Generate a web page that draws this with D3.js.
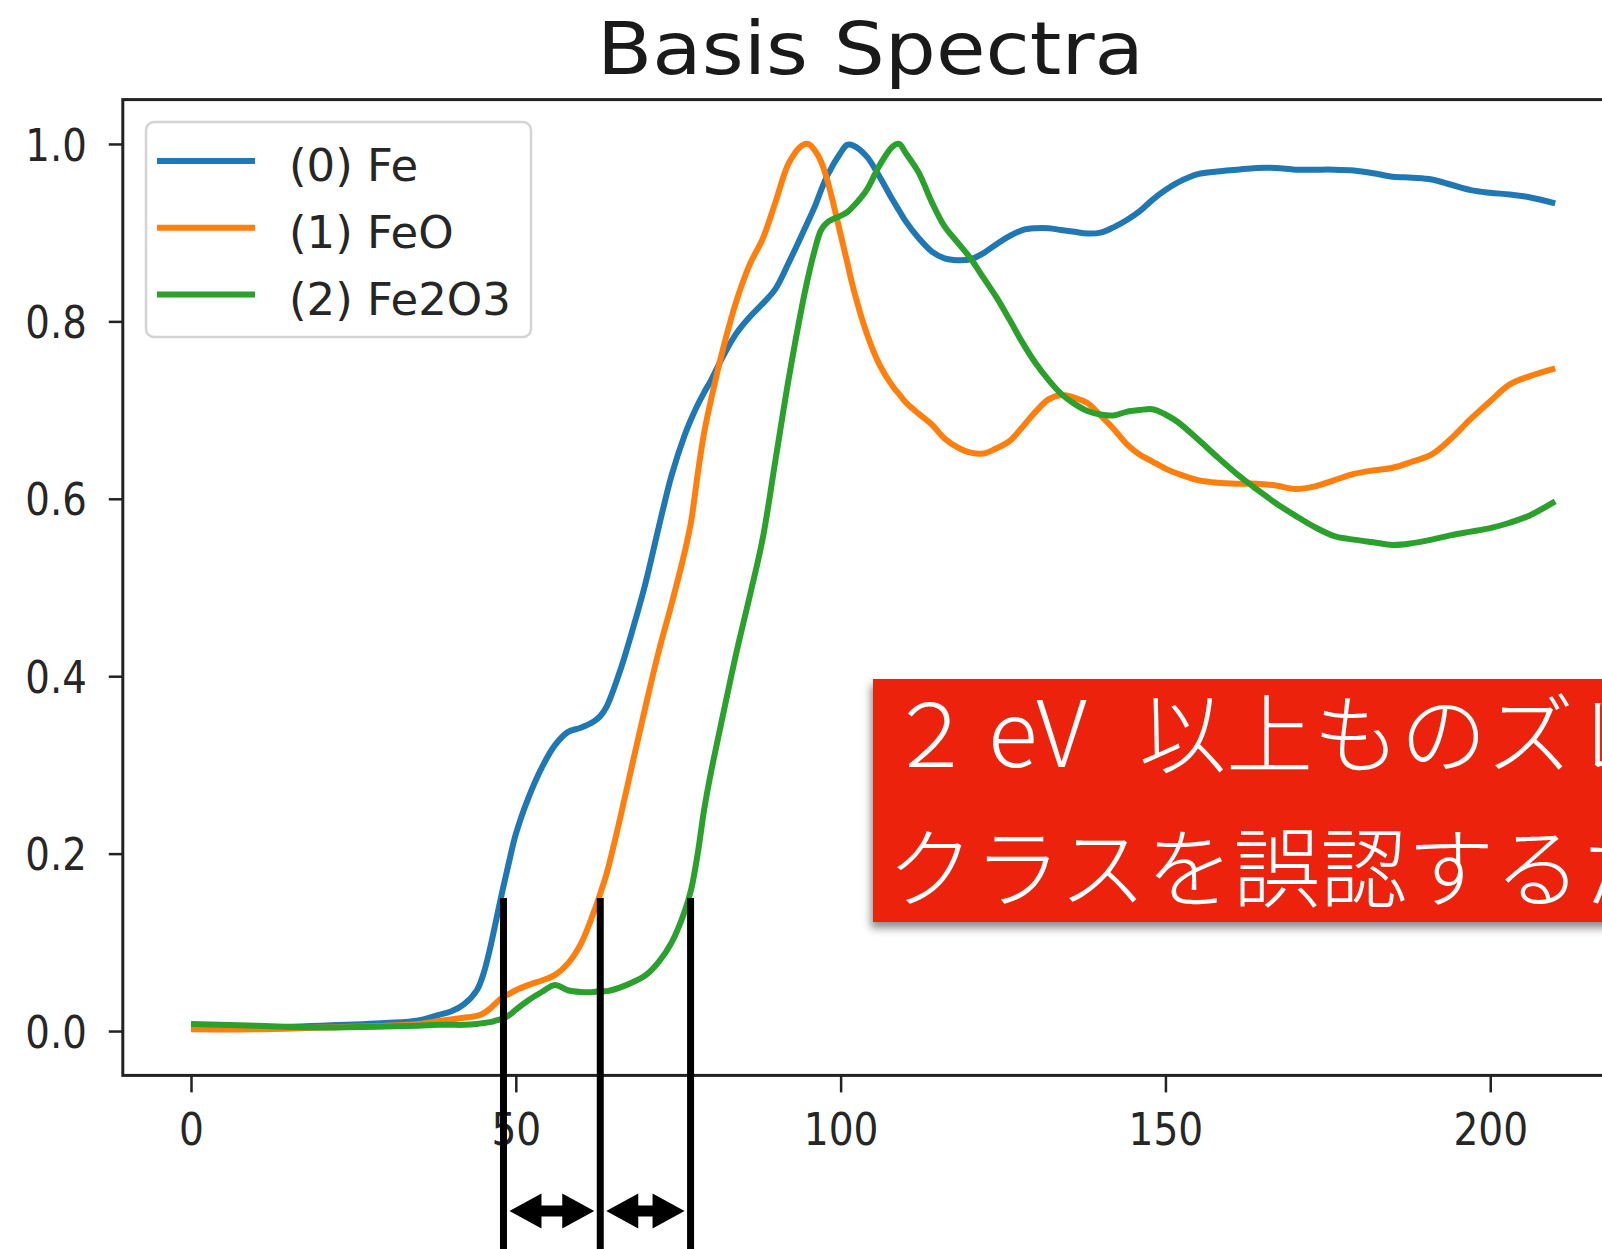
<!DOCTYPE html>
<html>
<head>
<meta charset="utf-8">
<script src="https://cdn.jsdelivr.net/npm/d3@7"></script>
<style>
  html, body { margin: 0; padding: 0; background: #ffffff; }
  svg { display: block; }
</style>
</head>
<body>
<svg id="chart" width="1602" height="1249"></svg>
<script>
// ---------------- data ----------------
const energy = [0,10,20,30,35,38,40,42,44,45,46,47,48,49,50,52,54,56,58,60,62,63,64,66,68,70,72,74,76,77,78,79,80,82,84,86,88,90,92,94,95,96,97,98,100,101,102,104,106,108,109,110,112,114,116,118,120,122,124,126,128,130,132,134,136,138,140,142,144,146,148,150,152,155,158,161,164,167,170,173,176,179,182,185,188,191,194,197,200,203,206,210];

const fe = [0.004,0.004,0.006,0.009,0.012,0.018,0.022,0.030,0.046,0.064,0.092,0.126,0.160,0.192,0.222,0.264,0.297,0.322,0.337,0.342,0.349,0.355,0.366,0.405,0.453,0.506,0.568,0.627,0.672,0.690,0.706,0.720,0.733,0.762,0.787,0.805,0.820,0.837,0.866,0.897,0.913,0.929,0.948,0.965,0.990,0.999,0.998,0.986,0.963,0.937,0.925,0.913,0.894,0.879,0.871,0.869,0.870,0.877,0.887,0.896,0.903,0.905,0.905,0.903,0.901,0.899,0.900,0.906,0.914,0.924,0.937,0.948,0.957,0.966,0.969,0.971,0.973,0.973,0.971,0.971,0.971,0.970,0.967,0.963,0.962,0.960,0.954,0.948,0.945,0.943,0.940,0.933];

const feo = [0.002,0.002,0.004,0.006,0.008,0.011,0.013,0.015,0.017,0.020,0.025,0.032,0.038,0.042,0.046,0.052,0.057,0.063,0.076,0.098,0.134,0.155,0.178,0.238,0.303,0.367,0.428,0.482,0.540,0.575,0.628,0.675,0.710,0.772,0.824,0.864,0.893,0.935,0.978,0.998,1.000,0.993,0.980,0.958,0.898,0.867,0.836,0.787,0.751,0.727,0.718,0.709,0.696,0.684,0.668,0.658,0.652,0.651,0.657,0.665,0.681,0.698,0.712,0.717,0.714,0.708,0.694,0.679,0.662,0.650,0.642,0.634,0.628,0.621,0.618,0.617,0.617,0.615,0.611,0.614,0.621,0.628,0.632,0.635,0.642,0.650,0.668,0.690,0.710,0.729,0.738,0.747];

const fe2o3 = [0.008,0.006,0.004,0.005,0.006,0.007,0.007,0.007,0.008,0.009,0.010,0.012,0.014,0.018,0.024,0.035,0.044,0.052,0.046,0.044,0.044,0.045,0.045,0.049,0.055,0.063,0.078,0.100,0.135,0.160,0.200,0.250,0.290,0.360,0.428,0.490,0.555,0.645,0.735,0.815,0.850,0.880,0.903,0.912,0.919,0.923,0.930,0.948,0.976,0.997,1.000,0.990,0.968,0.935,0.907,0.889,0.871,0.849,0.827,0.802,0.776,0.753,0.734,0.718,0.707,0.699,0.695,0.694,0.698,0.700,0.701,0.695,0.686,0.667,0.647,0.628,0.611,0.595,0.581,0.568,0.558,0.554,0.551,0.548,0.550,0.554,0.559,0.563,0.567,0.573,0.581,0.597];

const seriesNames = ["(0) Fe", "(1) FeO", "(2) Fe2O3"];
const seriesColors = ["#1f77b4", "#ff7f0e", "#2ca02c"];
const xTicks = [0, 50, 100, 150, 200];
const yTicks = [0.0, 0.2, 0.4, 0.6, 0.8, 1.0];
const titleText = "Basis Spectra";
const markerX = [48.1, 63.0, 76.9];   // where each curve reaches 0.15
const markerTop = 0.15;
const noteLine1 = ["２", "eV", "以上ものズレ"];
const noteLine2 = "クラスを誤認するた";

// ---------------- layout ----------------
const svg = d3.select("#chart");
const W = 1602, H = 1249;
const plot = { left: 122.8, right: 1629.9, top: 99.6, bottom: 1075.4 };

const x = d3.scaleLinear().domain([-10.5, 221.5]).range([plot.left, plot.right]);
const y = d3.scaleLinear().domain([-0.05, 1.05]).range([plot.bottom, plot.top]);

const FONT = "'DejaVu Sans', 'Liberation Sans', sans-serif";
const JFONT = "'Noto Sans CJK JP', 'Noto Sans CJK SC', sans-serif";

// title
svg.append("text")
  .attr("transform", `translate(870.5,74) scale(1.135,1.03)`)
  .attr("text-anchor", "middle")
  .attr("font-family", FONT)
  .attr("font-size", 71)
  .attr("fill", "#1a1a1a")
  .text(titleText);

// series lines
const series = [fe, feo, fe2o3];
const line = d3.line()
  .x((d, i) => x(energy[i]))
  .y(d => y(d))
  .curve(d3.curveCatmullRom.alpha(0.5));

series.forEach((vals, k) => {
  svg.append("path")
    .datum(vals)
    .attr("fill", "none")
    .attr("stroke", seriesColors[k])
    .attr("stroke-width", 6)
    .attr("stroke-linejoin", "round")
    .attr("stroke-linecap", "butt")
    .attr("d", line);
});

// axes
const yAxis = d3.axisLeft(y).tickValues(yTicks).tickFormat(d3.format(".1f")).tickSize(14).tickSizeOuter(0);
const gy = svg.append("g").attr("transform", `translate(${plot.left},0)`).call(yAxis);
gy.select(".domain").remove();
gy.selectAll(".tick line").attr("stroke", "#222").attr("stroke-width", 2.5);
gy.selectAll(".tick text")
  .attr("x", 0).attr("dy", "0.36em")
  .attr("transform", "translate(-36,0) scale(0.86,1)")
  .attr("font-family", FONT).attr("font-size", 45).attr("fill", "#262626");

const xAxis = d3.axisBottom(x).tickValues(xTicks).tickFormat(d3.format("d")).tickSize(17).tickSizeOuter(0);
const gx = svg.append("g").attr("transform", `translate(0,${plot.bottom})`).call(xAxis);
gx.select(".domain").remove();
gx.selectAll(".tick line").attr("stroke", "#222").attr("stroke-width", 2.5);
gx.selectAll(".tick text")
  .attr("y", 0).attr("dy", 0)
  .attr("transform", "translate(0,70) scale(0.87,1)")
  .attr("font-family", FONT).attr("font-size", 45).attr("fill", "#262626");

// frame (spines)
svg.append("rect")
  .attr("x", plot.left).attr("y", plot.top)
  .attr("width", plot.right - plot.left).attr("height", plot.bottom - plot.top)
  .attr("fill", "none").attr("stroke", "#222").attr("stroke-width", 3);

// legend
const leg = svg.append("g");
leg.append("rect")
  .attr("x", 146).attr("y", 122).attr("width", 385).attr("height", 215)
  .attr("rx", 8).attr("ry", 8)
  .attr("fill", "#ffffff").attr("fill-opacity", 0.8)
  .attr("stroke", "#d4d4d4").attr("stroke-width", 2.5);
seriesNames.forEach((name, k) => {
  const ly = 161 + k * 66.8;
  leg.append("line")
    .attr("x1", 157).attr("x2", 255).attr("y1", ly).attr("y2", ly)
    .attr("stroke", seriesColors[k]).attr("stroke-width", 6);
  leg.append("text")
    .attr("x", 289).attr("y", ly + 20)
    .attr("font-family", FONT).attr("font-size", 45).attr("fill", "#262626")
    .text(name);
});

// annotation: red note box
const defs = svg.append("defs");
const f = defs.append("filter").attr("id", "shadow").attr("x", "-10%").attr("y", "-10%").attr("width", "130%").attr("height", "140%");
f.append("feDropShadow").attr("dx", -2).attr("dy", 6).attr("stdDeviation", 4)
  .attr("flood-color", "#000").attr("flood-opacity", 0.45);

svg.append("rect")
  .attr("x", 873).attr("y", 679).attr("width", 800).attr("height", 243)
  .attr("fill", "#ec2210")
  .attr("filter", "url(#shadow)");

const t1 = svg.append("text")
  .attr("y", 767)
  .attr("font-family", JFONT).attr("font-weight", 300)
  .attr("font-size", 87).attr("fill", "#ffffff");
t1.append("tspan").attr("x", 887).text(noteLine1[0]);
t1.append("tspan").attr("x", 988).attr("font-size", 92).text(noteLine1[1]);
t1.append("tspan").attr("x", 1139).text(noteLine1[2]);

svg.append("text")
  .attr("x", 887).attr("y", 901)
  .attr("font-family", JFONT).attr("font-weight", 300)
  .attr("font-size", 87).attr("fill", "#ffffff")
  .text(noteLine2);

// marker lines and double arrows
markerX.forEach(mx => {
  svg.append("line")
    .attr("x1", x(mx)).attr("x2", x(mx))
    .attr("y1", y(markerTop)).attr("y2", H)
    .attr("stroke", "#000").attr("stroke-width", 7);
});

const arrowY = 1211;
function dblArrow(a, b) {
  const l = a + 6, r = b - 6, hl = 32, hh = 17.5, sh = 5.5;
  return `M${l},${arrowY} L${l + hl},${arrowY - hh} L${l + hl},${arrowY - sh} L${r - hl},${arrowY - sh} L${r - hl},${arrowY - hh} L${r},${arrowY} L${r - hl},${arrowY + hh} L${r - hl},${arrowY + sh} L${l + hl},${arrowY + sh} L${l + hl},${arrowY + hh} Z`;
}
for (let i = 0; i < markerX.length - 1; i++) {
  svg.append("path")
    .attr("d", dblArrow(x(markerX[i]), x(markerX[i + 1])))
    .attr("fill", "#000");
}
</script>
</body>
</html>
